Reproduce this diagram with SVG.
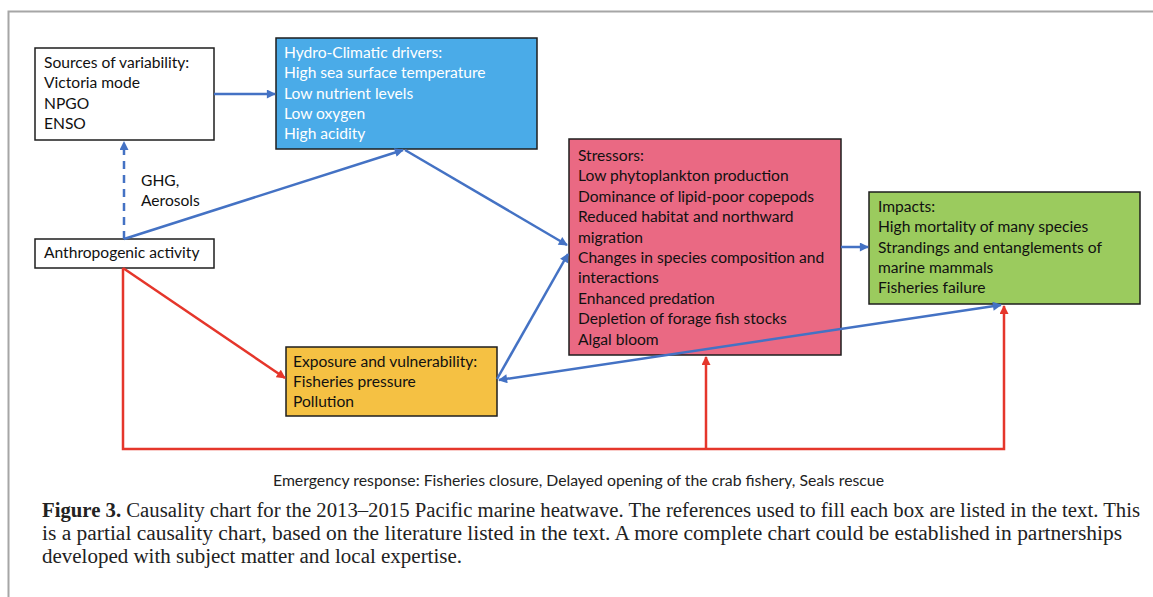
<svg xmlns="http://www.w3.org/2000/svg" width="1153" height="597" viewBox="0 0 1153 597">
  <style>
    .box { stroke: #1e1e1e; stroke-width: 1.5; }
    .lbl { font-family: Lato, "Open Sans", sans-serif; font-size: 15.6px; fill: #111; }
    .lbl-w { font-family: Lato, "Open Sans", sans-serif; font-size: 15.6px; fill: #ffffff; }
    .blue { stroke: #4472c4; stroke-width: 2.5; fill: none; }
    .red { stroke: #e5362b; stroke-width: 2.5; fill: none; }
    .cap { font-family: "Liberation Serif", serif; font-size: 20px; fill: #222; }
  </style>
  <defs>
    <marker id="ah-blue" viewBox="0 0 10 10" refX="9" refY="5" markerWidth="10" markerHeight="9" markerUnits="userSpaceOnUse" orient="auto-start-reverse">
      <path d="M0,0 L10,5 L0,10 z" fill="#4472c4"/>
    </marker>
    <marker id="ah-red" viewBox="0 0 10 10" refX="9" refY="5" markerWidth="10" markerHeight="9" markerUnits="userSpaceOnUse" orient="auto-start-reverse">
      <path d="M0,0 L10,5 L0,10 z" fill="#e5362b"/>
    </marker>
  </defs>

  <rect width="1153" height="597" fill="#ffffff"/>
  <!-- page frame -->
  <path d="M8.5,597 V11.5 H1153" fill="none" stroke="#a6a6a6" stroke-width="2"/>

  <g id="sources">
    <rect class="box" x="35" y="48" width="179" height="92" fill="#ffffff"/>
    <text class="lbl" x="44" y="68">Sources of variability:<tspan x="44" dy="20.3">Victoria mode</tspan><tspan x="44" dy="20.3">NPGO</tspan><tspan x="44" dy="20.3">ENSO</tspan></text>
  </g>

  <g id="anthropogenic">
    <rect class="box" x="35" y="239" width="179" height="29" fill="#ffffff"/>
    <text class="lbl" x="44" y="258">Anthropogenic activity</text>
  </g>

  <g id="ghg-label">
    <text class="lbl" x="141" y="186">GHG,<tspan x="141" dy="20">Aerosols</tspan></text>
  </g>

  <g id="hydro-climatic">
    <rect class="box" x="276" y="38" width="261" height="111" fill="#4aabe8"/>
    <text class="lbl-w" x="284" y="58">Hydro-Climatic drivers:<tspan x="284" dy="20.3">High sea surface temperature</tspan><tspan x="284" dy="20.3">Low nutrient levels</tspan><tspan x="284" dy="20.3">Low oxygen</tspan><tspan x="284" dy="20.3">High acidity</tspan></text>
  </g>

  <g id="stressors">
    <rect class="box" x="569" y="139" width="272" height="216" fill="#ea6983"/>
    <text class="lbl" x="578" y="161">Stressors:<tspan x="578" dy="20.4">Low phytoplankton production</tspan><tspan x="578" dy="20.4">Dominance of lipid-poor copepods</tspan><tspan x="578" dy="20.4">Reduced habitat and northward</tspan><tspan x="578" dy="20.4">migration</tspan><tspan x="578" dy="20.4">Changes in species composition and</tspan><tspan x="578" dy="20.4">interactions</tspan><tspan x="578" dy="20.4">Enhanced predation</tspan><tspan x="578" dy="20.4">Depletion of forage fish stocks</tspan><tspan x="578" dy="20.4">Algal bloom</tspan></text>
  </g>

  <g id="impacts">
    <rect class="box" x="869" y="192" width="271" height="112" fill="#9bcb5e"/>
    <text class="lbl" x="878" y="212">Impacts:<tspan x="878" dy="20.3">High mortality of many species</tspan><tspan x="878" dy="20.3">Strandings and entanglements of</tspan><tspan x="878" dy="20.3">marine mammals</tspan><tspan x="878" dy="20.3">Fisheries failure</tspan></text>
  </g>

  <g id="exposure">
    <rect class="box" x="286" y="347" width="211" height="69" fill="#f5c143"/>
    <text class="lbl" x="293" y="367">Exposure and vulnerability:<tspan x="293" dy="20">Fisheries pressure</tspan><tspan x="293" dy="20">Pollution</tspan></text>
  </g>

  <!-- connectors, drawn over the boxes -->
  <g id="connectors">
    <path class="blue" d="M214,94 H275" marker-end="url(#ah-blue)"/>
    <path class="blue" d="M124,239 V142" stroke-dasharray="8,6" marker-end="url(#ah-blue)"/>
    <path class="blue" d="M124,239 L403,150" marker-end="url(#ah-blue)"/>
    <path class="blue" d="M405,150 L567,245" marker-end="url(#ah-blue)"/>
    <path class="blue" d="M497,379 L568,254" marker-end="url(#ah-blue)"/>
    <path class="blue" d="M499,380 L1001,305" marker-start="url(#ah-blue)" marker-end="url(#ah-blue)"/>
    <path class="blue" d="M841,247 H868" marker-end="url(#ah-blue)"/>
    <path class="red" d="M123,268 L285,378" marker-end="url(#ah-red)"/>
    <path class="red" d="M123,268 V449 H1004 V306" marker-end="url(#ah-red)"/>
    <path class="red" d="M706,449 V357" marker-end="url(#ah-red)"/>
  </g>

  <g id="emergency">
    <text x="273" y="486" font-family="Lato, 'Open Sans', sans-serif" font-size="15.5px" fill="#222" textLength="611" lengthAdjust="spacingAndGlyphs">Emergency response: Fisheries closure, Delayed opening of the crab fishery, Seals rescue</text>
  </g>

  <g id="caption">
    <text class="cap" x="42" y="517" textLength="1098" lengthAdjust="spacingAndGlyphs"><tspan font-weight="bold">Figure 3.</tspan> Causality chart for the 2013–2015 Pacific marine heatwave. The references used to fill each box are listed in the text. This</text>
    <text class="cap" x="42" y="540" textLength="1080" lengthAdjust="spacingAndGlyphs">is a partial causality chart, based on the literature listed in the text. A more complete chart could be established in partnerships</text>
    <text class="cap" x="42" y="563" textLength="420" lengthAdjust="spacingAndGlyphs">developed with subject matter and local expertise.</text>
  </g>
</svg>
